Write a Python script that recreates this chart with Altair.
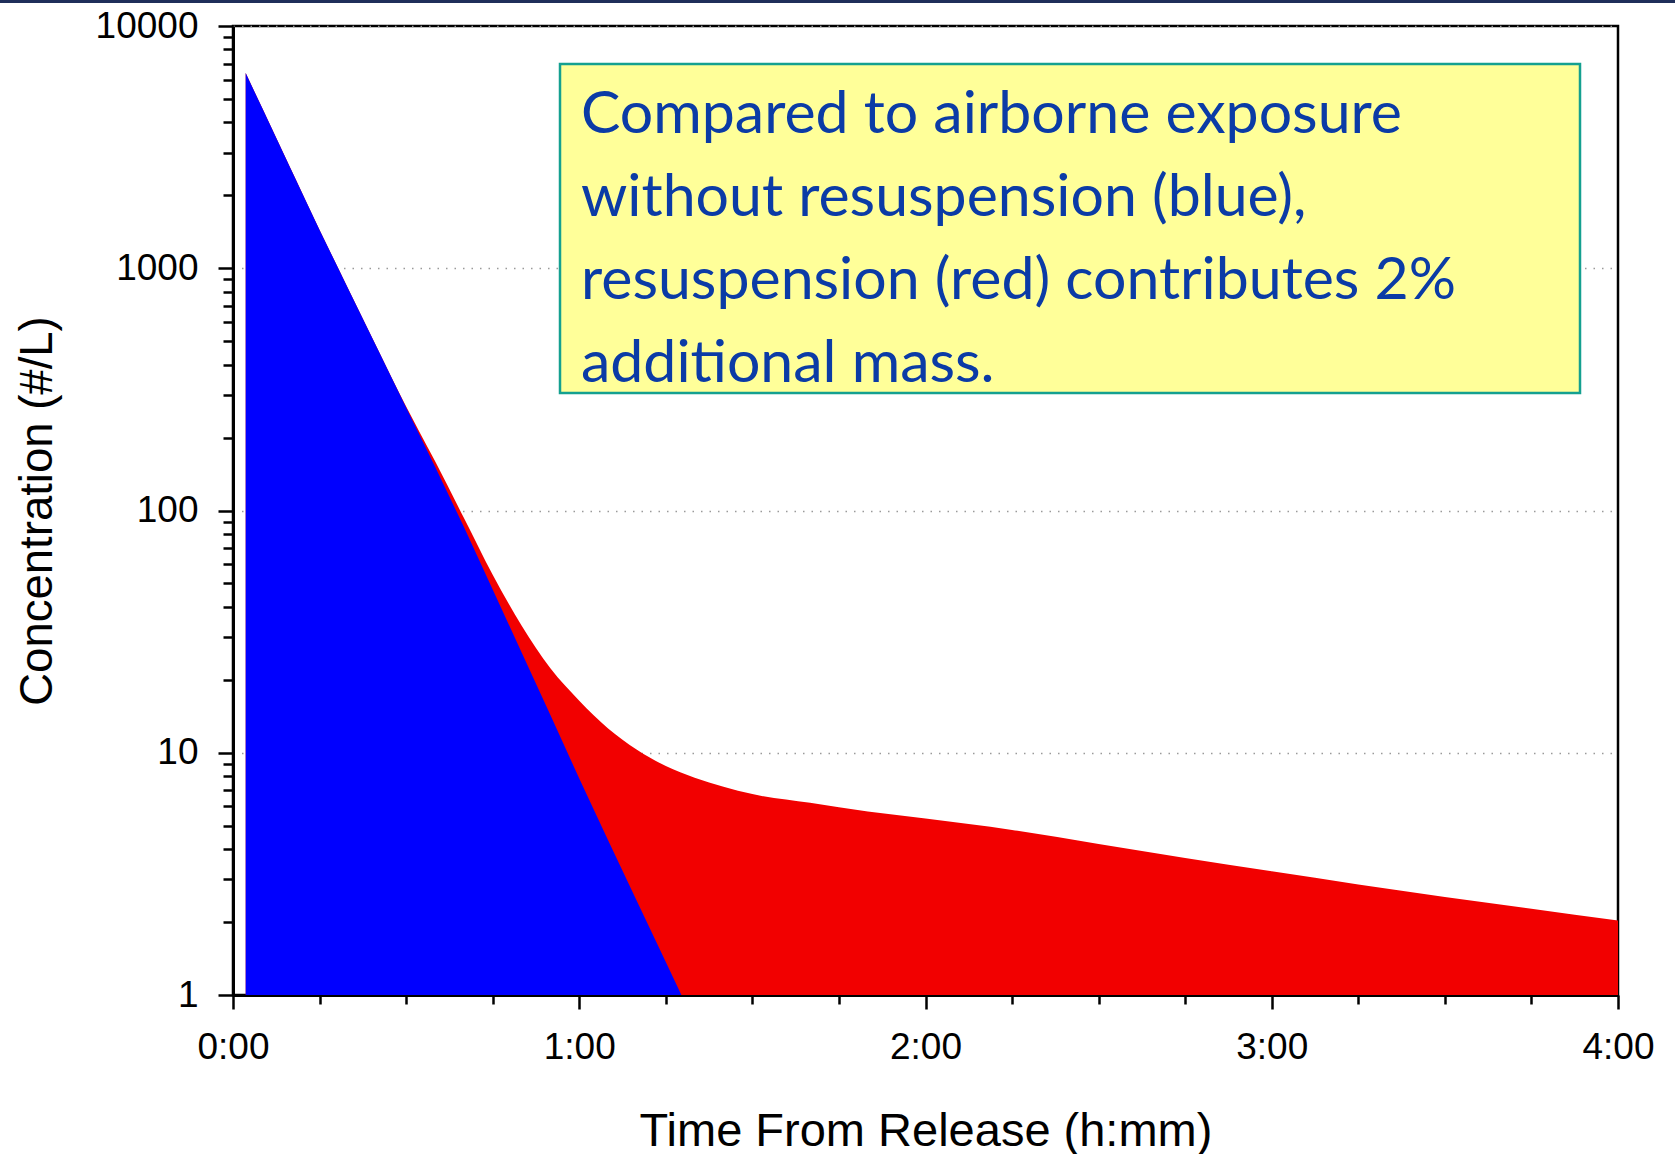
import altair as alt
import pandas as pd

# ---- data (time in minutes, concentration #/L) ----
red_minutes = [2.2, 5, 10, 15, 20, 25, 30, 35, 40, 45, 50, 55, 60, 65, 70, 75,
               80, 85, 90, 100, 110, 120, 135, 150, 165, 180, 195, 210, 225, 240]
red_conc = [6400, 4615, 2576, 1439, 820, 468, 269, 160, 93.3, 54.3, 33.5, 22.3,
            16.4, 12.6, 10.3, 8.81, 7.89, 7.24, 6.75, 6.21, 5.72, 5.35, 4.80, 4.20,
            3.68, 3.24, 2.86, 2.54, 2.27, 2.03]

blue_minutes = [2.2, 5, 10, 15, 20, 25, 30, 35, 40, 45, 50, 55, 60, 65, 70, 75, 77.7]
blue_conc = [6400, 4615, 2576, 1439, 820, 468, 266, 152, 85.7, 47.2, 26.0, 14.3,
             7.83, 4.35, 2.44, 1.37, 1.0]

x_tick_minutes = list(range(0, 241, 15))
y_tick_values = [1, 2, 3, 4, 5, 6, 7, 8, 9,
                 10, 20, 30, 40, 50, 60, 70, 80, 90,
                 100, 200, 300, 400, 500, 600, 700, 800, 900,
                 1000, 2000, 3000, 4000, 5000, 6000, 7000, 8000, 9000, 10000]

note_lines = ["Compared to airborne exposure",
              "without resuspension (blue),",
              "resuspension (red) contributes 2%",
              "additional mass."]
x_title = "Time From Release (h:mm)"
y_title = "Concentration (#/L)"

W, H = 1385, 969
PAD = {"left": 233, "top": 26, "right": 1675 - 233 - W, "bottom": 1154 - 26 - H}
AXFONT = "Liberation Sans"

red_df = pd.DataFrame({"t": red_minutes, "c": red_conc})
blue_df = pd.DataFrame({"t": blue_minutes, "c": blue_conc})

x_scale = alt.Scale(domain=[0, 240], nice=False, zero=False)
y_scale = alt.Scale(type="log", domain=[1, 10000], nice=False)

decade_test = "indexof([1,10,100,1000,10000], datum.value) >= 0"
hour_test = "datum.value % 60 == 0"

x_axis = alt.Axis(
    values=x_tick_minutes,
    labelExpr=f"{hour_test} ? floor(datum.value / 60) + ':00' : ''",
    title=x_title, grid=False,
    domainColor="black", domainWidth=3,
    tickColor="black", tickWidth=2.5,
    tickSize={"condition": {"test": hour_test, "value": 14}, "value": 9},
    labelFont=AXFONT, labelFontSize=37, labelColor="black",
    labelPadding=49, labelBaseline="alphabetic", labelFlush=False, labelOverlap=False,
    titleFont=AXFONT, titleFontSize=47, titleFontWeight="normal", titleColor="black",
    titleX=W / 2, titleY=150, titleAlign="center", titleBaseline="alphabetic",
)

y_axis = alt.Axis(
    values=y_tick_values,
    labelExpr=f"{decade_test} ? datum.value : ''",
    title=y_title,
    grid=True, gridColor="#9a9a9a", gridDash=[1.5, 7], gridWidth=1.5,
    gridOpacity={"condition": {"test": decade_test, "value": 1}, "value": 0},
    domainColor="black", domainWidth=3,
    tickColor="black", tickWidth=2.5,
    tickSize={"condition": {"test": decade_test, "value": 15}, "value": 10},
    labelFont=AXFONT, labelFontSize=37, labelColor="black",
    labelPadding=20, labelBaseline="middle", labelOverlap=False, labelFlush=False,
    titleFont=AXFONT, titleFontSize=45.5, titleFontWeight="normal", titleColor="black",
    titleX=-196, titleY=H / 2, titleAngle=270, titleAlign="center", titleBaseline="middle",
)

red = alt.Chart(red_df).mark_area(color="#F20000", opacity=1, interpolate="monotone").encode(
    x=alt.X("t:Q", scale=x_scale, axis=x_axis),
    y=alt.Y("c:Q", scale=y_scale, axis=y_axis),
    y2=alt.datum(1),
)

blue = alt.Chart(blue_df).mark_area(color="#0000FF", opacity=1).encode(
    x=alt.X("t:Q", scale=x_scale),
    y=alt.Y("c:Q", scale=y_scale),
    y2=alt.datum(1),
)

note_box = alt.Chart(pd.DataFrame({"k": [0]})).mark_rect(
    fill="#FFFF99", stroke="#14A090", strokeWidth=2.5
).encode(
    x=alt.value(560 - 233), x2=alt.value(1580 - 233),
    y=alt.value(64 - 26), y2=alt.value(393 - 26),
)

note_text = alt.Chart(pd.DataFrame({"k": [0]})).mark_text(
    text=note_lines, align="left", baseline="alphabetic",
    font="Lato", fontSize=59, color="#0B3BA6", lineHeight=83,
).encode(x=alt.value(581 - 233), y=alt.value(133 - 26))

top_rule = alt.Chart(pd.DataFrame({"k": [0]})).mark_rule(
    color="#1F2F5A", strokeWidth=3
).encode(x=alt.value(-233), x2=alt.value(1675 - 233), y=alt.value(-24.5))

chart = alt.layer(red, blue, note_box, note_text, top_rule).properties(
    width=W, height=H, padding=PAD, autosize="none", background="white",
).configure_view(stroke="black", strokeWidth=2.5)

chart.save("out.html", embed_options={"renderer": "svg", "actions": False})
